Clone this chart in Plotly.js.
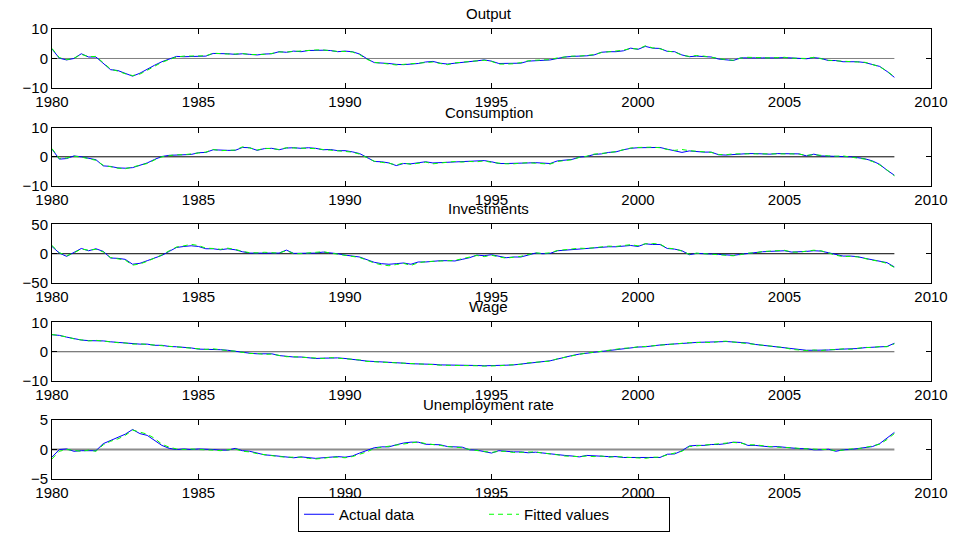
<!DOCTYPE html>
<html>
<head>
<meta charset="utf-8">
<script src="https://cdn.plot.ly/plotly-3.0.1.min.js"></script>
<style>html,body{margin:0;padding:0;background:#fff;}#chart{width:957px;height:533px;}</style>
</head>
<body>
<div id="chart"></div>
<script>
// Quarterly data, 1980Q1 .. 2008Q4
const startYear = 1980;
const panelTitles = ["Output", "Consumption", "Investments", "Wage", "Unemployment rate"];
const xTicks = [1980, 1985, 1990, 1995, 2000, 2005, 2010];
const legendNames = ["Actual data", "Fitted values"];

const outputActual = [
  3.2, 0.1, -0.5, 0.0,   1.6, 0.5, 0.5, -1.6,   -3.8, -4.1, -5.0, -6.0,   -5.0, -3.6, -2.3, -1.1,
  -0.2, 0.7, 0.6, 0.7,   0.9, 0.8, 1.7, 1.7,   1.6, 1.4, 1.6, 1.4,   1.2, 1.5, 1.6, 2.3,
  2.1, 2.5, 2.3, 2.7,   2.8, 2.8, 2.7, 2.3,   2.5, 2.3, 1.5, -0.1,   -1.4, -1.5, -1.7, -2.0,
  -2.1, -1.9, -1.7, -1.2,   -1.0, -1.6, -1.9, -1.6,   -1.4, -1.1, -0.8, -0.5,   -0.9, -1.7, -1.6, -1.6,
  -1.6, -0.9, -0.7, -0.6,   -0.5, 0.0, 0.5, 0.7,   0.7, 0.9, 1.2, 2.1,   2.3, 2.3, 2.6, 3.5,
  3.1, 4.1, 3.5, 3.4,   2.4, 2.3, 1.2, 0.6,   0.8, 0.7, 0.5, -0.2,   -0.5, -0.7, 0.2, 0.3,
  0.2, 0.2, 0.1, 0.2,   0.3, 0.2, 0.1, -0.1,   0.3, 0.0, -0.7, -0.7,   -1.1, -1.1, -1.1, -1.4,
  -2.1, -2.7, -4.4, -6.4
];
const outputFitted = [
  3.4, 0.3, -0.4, 0.1,   1.4, 0.6, 0.7, -1.3,   -3.6, -4.3, -5.2, -5.8,   -5.3, -4.0, -2.6, -1.3,
  -0.4, 0.5, 0.8, 0.9,   1.0, 0.9, 1.8, 1.6,   1.5, 1.5, 1.7, 1.3,   1.3, 1.4, 1.7, 2.2,
  2.2, 2.4, 2.4, 2.8,   2.9, 2.9, 2.6, 2.4,   2.4, 2.2, 1.3, -0.3,   -1.3, -1.6, -1.9, -2.2,
  -2.0, -1.8, -1.6, -1.3,   -1.2, -1.7, -2.1, -1.5,   -1.3, -1.0, -0.7, -0.6,   -1.0, -1.9, -1.9, -1.8,
  -1.4, -0.8, -0.6, -0.5,   -0.4, 0.2, 0.6, 0.8,   0.8, 1.0, 1.3, 2.0,   2.2, 2.4, 2.8, 3.4,
  3.2, 4.3, 3.6, 3.3,   2.5, 2.2, 1.1, 0.7,   1.0, 0.8, 0.4, -0.1,   -0.4, -0.6, 0.1, 0.4,
  0.3, 0.1, 0.2, 0.3,   0.4, 0.1, 0.0, 0.0,   0.4, -0.1, -0.6, -0.8,   -1.0, -1.2, -1.2, -1.3,
  -2.0, -2.8, -4.3, -6.2
];

const consumptionActual = [
  2.6, -0.8, -0.6, 0.3,   0.0, -0.6, -1.0, -3.1,   -3.3, -3.8, -3.9, -3.7,   -3.0, -2.1, -0.9, 0.1,
  0.5, 0.6, 0.8, 0.8,   1.4, 1.5, 2.4, 2.2,   2.2, 2.2, 3.2, 3.1,   2.2, 2.8, 2.9, 2.4,
  3.0, 3.1, 2.9, 3.1,   2.9, 2.4, 2.5, 2.1,   2.1, 1.7, 1.1, -0.2,   -1.6, -1.7, -2.1, -3.0,
  -2.3, -2.4, -2.1, -1.7,   -2.1, -2.0, -1.7, -1.7,   -1.6, -1.4, -1.5, -1.3,   -1.7, -2.3, -2.3, -2.3,
  -2.2, -2.1, -2.0, -2.2,   -2.3, -1.4, -1.1, -0.9,   -0.1, 0.1, 0.8, 1.0,   1.5, 1.7, 2.4, 2.9,
  3.1, 3.2, 3.2, 3.2,   2.6, 2.1, 1.5, 2.0,   1.7, 1.6, 1.6, 0.7,   0.6, 0.8, 1.1, 1.1,
  1.1, 0.9, 0.9, 1.1,   1.1, 1.1, 1.0, 0.3,   0.9, 0.3, 0.2, 0.3,   0.2, 0.0, -0.3, -0.7,
  -1.4, -2.6, -4.6, -6.3
];
const consumptionFitted = [
  2.8, -0.6, -0.4, 0.2,   -0.1, -0.7, -1.2, -2.9,   -3.4, -3.9, -4.1, -3.5,   -2.8, -2.3, -1.1, 0.0,
  0.4, 0.7, 0.7, 0.9,   1.3, 1.6, 2.5, 2.1,   2.3, 2.3, 3.4, 3.0,   2.3, 2.9, 2.8, 2.5,
  3.1, 3.0, 3.0, 3.0,   2.8, 2.5, 2.3, 2.2,   2.0, 1.6, 0.9, -0.4,   -1.5, -1.9, -2.2, -2.8,
  -2.1, -2.6, -2.3, -1.8,   -2.4, -2.2, -1.9, -1.6,   -1.8, -1.6, -1.7, -1.4,   -1.9, -2.2, -2.4, -2.4,
  -2.3, -2.0, -2.2, -2.4,   -2.5, -1.6, -1.3, -1.0,   -0.2, 0.2, 0.9, 1.1,   1.4, 1.8, 2.5, 3.0,
  3.2, 3.3, 3.3, 3.1,   2.5, 2.2, 2.5, 2.1,   1.8, 1.7, 1.5, 0.8,   0.7, 1.0, 1.0, 1.0,
  1.0, 1.0, 1.0, 1.0,   1.2, 1.0, 0.9, 0.5,   0.7, 0.4, 0.3, 0.2,   0.3, -0.1, -0.4, -0.8,
  -1.6, -2.8, -4.5, -6.5
];

const investmentsActual = [
  12.4, 1.1, -4.5, 2.3,   9.0, 5.1, 8.5, 4.0,   -7.3, -7.9, -9.6, -18.0,   -16.4, -11.9, -6.8, -2.8,
  4.0, 10.7, 12.4, 13.6,   12.4, 8.5, 8.5, 6.8,   8.5, 6.8, 3.4, 1.1,   1.1, 1.7, 1.1, 1.1,
  6.2, 0.6, 0.6, 1.1,   1.1, 2.8, 1.7, 0.0,   -2.3, -3.4, -5.6, -10.2,   -14.7, -17.0, -18.0, -17.0,
  -15.8, -18.0, -14.1, -14.1,   -12.4, -11.9, -11.9, -12.4,   -9.6, -6.8, -2.3, -3.4,   -1.7, -4.5, -6.8, -5.6,
  -5.6, -2.3, 1.1, 0.0,   0.6, 5.1, 6.2, 6.8,   8.5, 8.5, 9.6, 11.3,   11.9, 11.9, 13.0, 14.1,
  12.4, 16.9, 15.8, 15.8,   9.0, 7.9, 5.1, -1.7,   0.6, 0.6, -0.6, -1.1,   -1.7, -2.8, -1.1, 0.6,
  1.1, 3.4, 4.0, 4.5,   5.1, 2.8, 2.8, 4.0,   5.1, 4.5, 1.7, -1.7,   -4.0, -4.0, -5.1, -7.9,
  -10.2, -12.4, -15.3, -22.6
];
const investmentsFitted = [
  14.0, 2.0, -3.5, 1.5,   8.0, 6.0, 7.5, 3.0,   -6.5, -8.5, -11.0, -19.5,   -17.5, -13.0, -7.5, -2.0,
  5.0, 11.5, 13.5, 16.0,   14.0, 9.5, 9.0, 7.5,   9.5, 7.5, 4.0, 1.8,   1.5, 2.5, 1.8, 1.0,
  5.5, 0.0, 0.2, 1.5,   2.0, 3.5, 1.2, -0.8,   -3.5, -4.5, -6.5, -11.0,   -16.0, -19.0, -20.5, -18.5,
  -16.5, -20.0, -15.5, -13.5,   -13.0, -12.5, -11.5, -11.5,   -8.5, -6.0, -3.0, -5.0,   -2.5, -5.5, -7.5, -6.0,
  -4.5, -1.5, 1.5, 0.5,   1.5, 5.5, 6.5, 7.5,   9.5, 9.0, 10.5, 12.0,   13.0, 12.5, 14.5, 15.5,
  13.5, 17.0, 17.5, 16.5,   9.5, 8.5, 4.5, -1.0,   1.0, 0.0, -1.5, -2.0,   -2.5, -3.5, -1.5, 1.0,
  1.5, 3.8, 4.5, 5.0,   5.8, 3.0, 2.5, 4.5,   6.0, 5.0, 1.0, -2.5,   -5.0, -4.5, -5.5, -8.5,
  -11.0, -13.0, -16.5, -23.5
];

const wageActual = [
  5.8, 5.6, 5.0, 4.5,   4.0, 3.8, 3.8, 3.7,   3.4, 3.2, 2.9, 2.7,   2.6, 2.6, 2.2, 2.2,
  1.8, 1.7, 1.6, 1.3,   0.9, 0.9, 0.9, 0.7,   0.5, 0.1, -0.1, -0.5,   -0.7, -0.8, -0.7, -1.3,
  -1.6, -1.8, -1.8, -2.1,   -2.3, -2.2, -2.1, -2.1,   -2.3, -2.5, -2.9, -3.2,   -3.3, -3.5, -3.7, -3.8,
  -3.9, -4.1, -4.1, -4.2,   -4.3, -4.5, -4.5, -4.6,   -4.6, -4.7, -4.7, -4.8,   -4.8, -4.7, -4.6, -4.5,
  -4.2, -3.9, -3.5, -3.3,   -3.1, -2.5, -1.8, -1.3,   -0.8, -0.5, -0.1, 0.1,   0.5, 0.8, 1.1, 1.4,
  1.6, 1.7, 2.1, 2.3,   2.5, 2.6, 2.7, 3.0,   3.2, 3.2, 3.2, 3.4,   3.5, 3.4, 3.3, 3.0,
  2.5, 2.2, 1.9, 1.7,   1.3, 0.9, 0.6, 0.5,   0.5, 0.5, 0.6, 0.8,   0.9, 0.9, 1.1, 1.4,
  1.5, 1.7, 1.8, 2.9
];
const wageFitted = [
  5.9, 5.5, 5.1, 4.4,   4.1, 3.7, 3.9, 3.6,   3.5, 3.1, 3.0, 2.6,   2.7, 2.5, 2.3, 2.1,
  1.9, 1.6, 1.5, 1.2,   1.0, 0.8, 1.0, 0.6,   0.4, 0.2, -0.2, -0.6,   -0.6, -0.9, -0.8, -1.2,
  -1.7, -1.7, -1.9, -2.0,   -2.2, -2.3, -2.0, -2.2,   -2.4, -2.6, -2.8, -3.3,   -3.4, -3.6, -3.8, -3.9,
  -4.0, -4.0, -4.2, -4.3,   -4.4, -4.6, -4.6, -4.7,   -4.7, -4.8, -4.8, -4.9,   -4.9, -4.8, -4.6, -4.4,
  -4.3, -3.8, -3.6, -3.2,   -3.2, -2.4, -1.9, -1.2,   -0.9, -0.4, -0.2, 0.2,   0.4, 0.9, 1.2, 1.3,
  1.7, 1.8, 2.0, 2.4,   2.4, 2.7, 2.8, 3.1,   3.1, 3.3, 3.1, 3.5,   3.6, 3.3, 3.2, 2.9,
  2.6, 2.1, 2.0, 1.6,   1.4, 0.8, 0.7, 0.4,   0.6, 0.4, 0.7, 0.7,   1.0, 0.8, 1.2, 1.5,
  1.4, 1.8, 1.7, 2.7
];

const unemploymentActual = [
  -1.3, 0.0, 0.1, -0.3,   -0.2, -0.2, -0.2, 1.0,   1.5, 2.0, 2.6, 3.4,   2.7, 2.4, 1.5, 0.7,
  0.2, 0.0, 0.1, 0.0,   0.1, 0.1, 0.0, -0.1,   -0.1, 0.2, -0.2, -0.3,   -0.6, -0.9, -1.0, -1.1,
  -1.2, -1.4, -1.25, -1.4,   -1.5, -1.4, -1.3, -1.2,   -1.3, -1.1, -0.6, -0.2,   0.3, 0.45, 0.45, 0.8,
  1.1, 1.25, 1.25, 0.9,   0.8, 0.8, 0.5, 0.45,   0.4, -0.05, -0.1, -0.35,   -0.6, -0.2, -0.35, -0.4,
  -0.4, -0.55, -0.45, -0.6,   -0.8, -0.95, -1.0, -1.1,   -1.25, -1.0, -1.1, -1.2,   -1.2, -1.2, -1.35, -1.35,
  -1.35, -1.35, -1.25, -1.35,   -0.8, -0.75, -0.2, 0.6,   0.7, 0.7, 0.85, 0.85,   1.0, 1.25, 1.2, 0.7,
  0.7, 0.55, 0.45, 0.5,   0.4, 0.2, 0.15, 0.15,   -0.05, -0.05, 0.05, -0.3,   -0.05, 0.0, 0.15, 0.35,
  0.5, 1.0, 1.9, 2.9
];
const unemploymentFitted = [
  -1.6, -0.3, 0.0, -0.2,   -0.3, -0.1, -0.3, 0.8,   1.4, 1.8, 2.4, 3.3,   2.9, 2.6, 1.9, 0.9,
  0.4, 0.1, 0.0, 0.1,   0.0, 0.0, -0.1, -0.2,   0.0, 0.1, -0.3, -0.4,   -0.7, -0.9, -1.1, -1.2,
  -1.3, -1.3, -1.3, -1.5,   -1.6, -1.5, -1.3, -1.3,   -1.4, -1.2, -0.8, -0.4,   0.2, 0.4, 0.5, 0.7,
  1.0, 1.2, 1.3, 1.0,   0.9, 0.7, 0.5, 0.4,   0.3, 0.0, -0.2, -0.4,   -0.5, -0.3, -0.3, -0.5,
  -0.5, -0.5, -0.4, -0.6,   -0.7, -0.9, -1.1, -1.2,   -1.2, -1.1, -1.2, -1.1,   -1.3, -1.2, -1.3, -1.4,
  -1.4, -1.5, -1.3, -1.3,   -0.9, -0.6, -0.3, 0.5,   0.6, 0.8, 0.8, 0.9,   1.1, 1.2, 1.1, 0.8,
  0.8, 0.6, 0.5, 0.4,   0.4, 0.3, 0.2, 0.1,   0.1, 0.0, 0.0, -0.2,   -0.1, 0.1, 0.1, 0.3,
  0.6, 0.9, 1.7, 2.7
];

const actualSeries = [outputActual, consumptionActual, investmentsActual, wageActual, unemploymentActual];
const fittedSeries = [outputFitted, consumptionFitted, investmentsFitted, wageFitted, unemploymentFitted];
const yLimits = [10, 10, 50, 10, 5];

// Layout geometry
const domains = [[0.869, 1.0], [0.651, 0.781], [0.4356, 0.5656], [0.2178, 0.3478], [0.0, 0.131]];
const zeroColors = ["#808080", "#000000", "#000000", "#555555", "#8c8c8c"];
const zeroWidths = [1, 1, 1, 1, 2];

const quarters = outputActual.map((_, i) => startYear + i / 4);

const traces = [];
const layout = {
  width: 957, height: 533,
  margin: {l: 52, r: 26, t: 29, b: 54, autoexpand: false},
  paper_bgcolor: "#ffffff", plot_bgcolor: "#ffffff",
  font: {family: "Liberation Sans, Arial, Helvetica, sans-serif", size: 15, color: "#000"},
  showlegend: true,
  legend: {
    orientation: "h", x: 0.4915, xanchor: "center", y: -0.04, yanchor: "top",
    bordercolor: "#000", borderwidth: 1, bgcolor: "#fff",
    font: {size: 15}, traceorder: "normal",
    entrywidth: 140, entrywidthmode: "pixels"
  },
  annotations: []
};

for (let p = 0; p < 5; p++) {
  const n = p + 1;
  const xa = "x" + (n === 1 ? "" : n);
  const ya = "y" + (n === 1 ? "" : n);
  // zero reference line spanning the data period
  traces.push({
    x: [quarters[0], quarters[quarters.length - 1]], y: [0, 0],
    xaxis: xa, yaxis: ya, mode: "lines", showlegend: false, hoverinfo: "skip",
    line: {color: zeroColors[p], width: zeroWidths[p]}
  });
  traces.push({
    x: quarters, y: actualSeries[p], xaxis: xa, yaxis: ya, mode: "lines",
    name: legendNames[0], showlegend: p === 0, legendgroup: "a",
    line: {color: "#0000ff", width: 1}
  });
  traces.push({
    x: quarters, y: fittedSeries[p], xaxis: xa, yaxis: ya, mode: "lines",
    name: legendNames[1], showlegend: p === 0, legendgroup: "f",
    line: {color: "#00ff00", width: 1, dash: "5px,4px"}
  });

  const lim = yLimits[p];
  layout["xaxis" + (n === 1 ? "" : n)] = {
    domain: [0, 1], anchor: ya, range: [1980, 2010],
    tickmode: "array", tickvals: xTicks, ticktext: xTicks.map(String),
    ticks: "inside", ticklen: 5, tickcolor: "#000", tickwidth: 1,
    showline: true, mirror: "ticks", linecolor: "#000", linewidth: 1,
    showgrid: false, zeroline: false, fixedrange: true,
    tickfont: {size: 15, color: "#000"}
  };
  layout["yaxis" + (n === 1 ? "" : n)] = {
    domain: domains[p], anchor: xa, range: [-lim, lim],
    tickmode: "array", tickvals: [-lim, 0, lim],
    ticks: "inside", ticklen: 5, tickcolor: "#000", tickwidth: 1,
    showline: true, mirror: "ticks", linecolor: "#000", linewidth: 1,
    showgrid: false, zeroline: false, fixedrange: true,
    tickfont: {size: 15, color: "#000"}
  };
  layout.annotations.push({
    text: panelTitles[p], xref: "paper", yref: "paper",
    x: 0.4966, y: domains[p][1], xanchor: "center", yanchor: "bottom",
    yshift: 5, showarrow: false, font: {size: 15, color: "#000"}
  });
}

Plotly.newPlot("chart", traces, layout, {displayModeBar: false, staticPlot: true});
</script>
</body>
</html>
